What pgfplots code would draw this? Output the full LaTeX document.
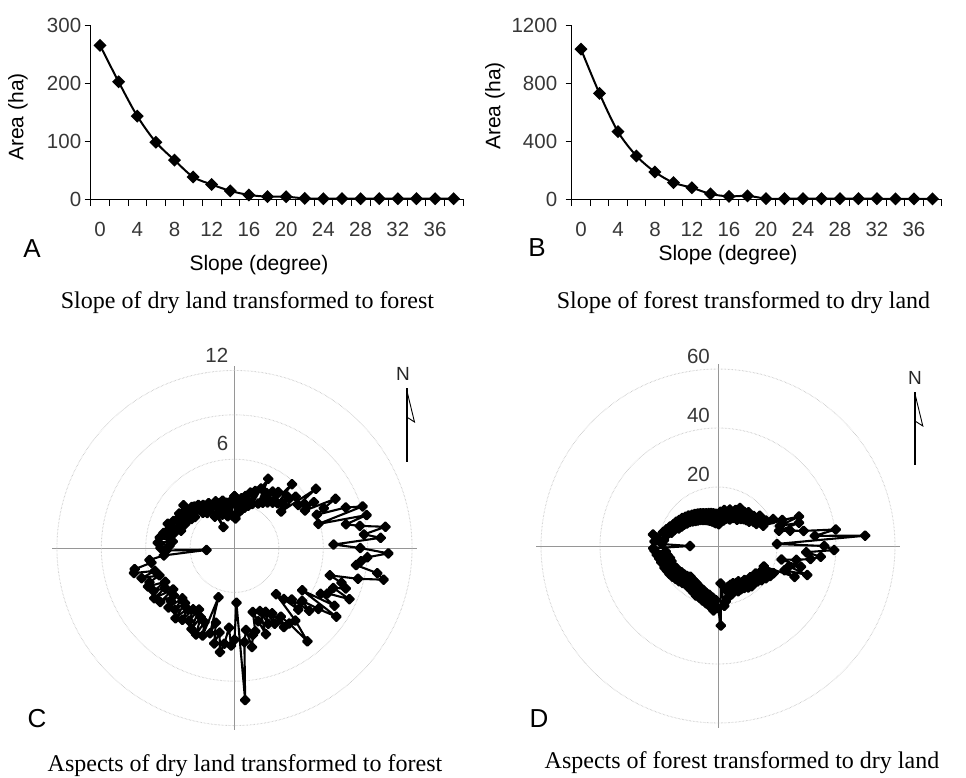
\documentclass[border=0pt]{standalone}
\usepackage{pgfplots}
\usepackage{pgfplotstable}
\pgfplotsset{compat=1.18}
\usepgfplotslibrary{polar}
\usepackage{fontspec}
\setmainfont{Liberation Sans}
\newfontfamily\capfont{Liberation Serif}
\newcommand\tickf{\fontsize{20.5}{24}\selectfont}
\newcommand\labf{\fontsize{21}{25}\selectfont}
\newcommand\capf{\capfont\fontsize{24}{28}\selectfont}
\newcommand\letf{\fontsize{26}{30}\selectfont}
\definecolor{tickc}{RGB}{55,55,55}
\definecolor{gridc}{RGB}{150,150,150}
\definecolor{circc}{RGB}{190,190,190}

\pgfplotstableread[row sep=\\]{
x y\\
0 265\\ 2 202\\ 4 143\\ 6 98\\ 8 67\\ 10 38\\ 12 25\\ 14 14\\ 16 7\\ 18 4\\
20 4\\ 22 1\\ 24 0.5\\ 26 0.5\\ 28 0.5\\ 30 0.5\\ 32 0.5\\ 34 0.5\\ 36 0.5\\ 38 0.5\\
}\dataA

\pgfplotstableread[row sep=\\]{
x y\\
0 1038\\ 2 731\\ 4 466\\ 6 298\\ 8 187\\ 10 113\\ 12 78\\ 14 35\\ 16 18\\ 18 22\\
20 3\\ 22 2\\ 24 2\\ 26 2\\ 28 2\\ 30 2\\ 32 2\\ 34 1\\ 36 1\\ 38 1\\
}\dataB

% aspect (degrees clockwise from north), area
\pgfplotstableread[row sep=\\]{
a r\\
0 3.5\\ 2 2.0\\ 4 3.2\\ 6 2.4\\ 8 3.4\\ 10 2.6\\ 12 3.6\\ 14 2.8\\ 16 3.9\\ 18 3.0\\
20 4.1\\ 22 3.2\\ 24 4.4\\ 26 5.2\\ 28 3.4\\ 30 4.3\\ 32 3.6\\ 34 4.6\\ 36 3.8\\ 38 4.8\\
40 4.0\\ 42 5.8\\ 44 4.2\\ 46 5.0\\ 48 4.4\\ 50 5.4\\ 52 4.0\\ 54 6.8\\ 56 5.2\\ 58 5.6\\
60 6.2\\ 62 5.4\\ 64 7.6\\ 66 6.6\\ 68 6.0\\ 70 8.0\\ 72 9.1\\ 74 5.9\\ 76 9.2\\ 78 7.7\\
80 8.6\\ 82 10.3\\ 84 8.8\\ 86 9.9\\ 88 6.7\\ 90 8.5\\ 92 10.4\\ 94 9.0\\ 96 8.6\\ 98 8.3\\
100 9.8\\ 102 10.3\\ 104 8.6\\ 106 6.7\\ 108 7.6\\ 110 8.0\\ 112 7.2\\ 114 8.5\\ 116 7.0\\ 118 6.6\\
120 7.8\\ 122 5.4\\ 124 8.3\\ 126 7.0\\ 128 5.8\\ 130 6.6\\ 132 5.2\\ 134 6.0\\ 136 4.8\\ 138 4.2\\
140 6.4\\ 142 8.0\\ 144 6.3\\ 146 5.6\\ 148 6.3\\ 150 5.1\\ 152 5.8\\ 154 4.8\\ 156 5.6\\ 158 4.6\\
160 6.2\\ 162 5.2\\ 164 4.5\\ 166 5.8\\ 168 6.0\\ 170 6.8\\ 172 5.6\\ 174 6.4\\ 176 10.3\\ 178 3.7\\
180 6.2\\ 182 6.6\\ 184 5.4\\ 186 6.5\\ 188 7.1\\ 190 5.8\\ 192 6.6\\ 194 5.2\\ 196 6.0\\ 198 3.5\\
200 6.3\\ 202 5.4\\ 204 6.4\\ 206 5.2\\ 208 6.2\\ 210 4.8\\ 212 5.8\\ 214 5.0\\ 216 6.0\\ 218 5.2\\
220 6.2\\ 222 5.0\\ 224 5.8\\ 226 4.9\\ 228 6.0\\ 230 5.6\\ 232 5.2\\ 234 6.2\\ 236 5.0\\ 238 6.4\\
240 5.4\\ 242 6.2\\ 244 5.2\\ 246 6.4\\ 248 6.2\\ 250 5.4\\ 252 6.6\\ 254 5.6\\ 256 7.0\\ 258 6.9\\
260 5.7\\ 262 5.8\\ 264 4.8\\ 266 1.9\\ 268 4.6\\ 270 5.0\\ 272 4.4\\ 274 5.2\\ 276 4.2\\ 278 5.1\\
280 4.5\\ 282 4.9\\ 284 4.2\\ 286 4.6\\ 288 3.8\\ 290 4.8\\ 292 3.9\\ 294 4.5\\ 296 3.7\\ 298 4.3\\
300 3.7\\ 302 4.4\\ 304 3.5\\ 306 4.2\\ 308 3.4\\ 310 4.5\\ 312 3.6\\ 314 4.0\\ 316 3.9\\ 318 3.2\\
320 3.8\\ 322 3.0\\ 324 3.6\\ 326 3.1\\ 328 2.5\\ 330 3.5\\ 332 1.6\\ 334 3.2\\ 336 2.6\\ 338 3.4\\
340 2.4\\ 342 3.2\\ 344 2.6\\ 346 3.3\\ 348 2.2\\ 350 3.1\\ 352 2.4\\ 354 3.0\\ 356 2.2\\ 358 3.3\\
360 3.5\\
}\dataC

\pgfplotstableread[row sep=\\]{
a r\\
0 10.5\\ 2 7.4\\ 4 11.6\\ 6 8.2\\ 8 10.8\\ 10 12.4\\ 12 8.8\\ 14 11.8\\ 16 9.6\\ 18 13.0\\
20 10.0\\ 22 12.2\\ 24 9.8\\ 26 13.6\\ 28 10.8\\ 30 14.9\\ 32 11.4\\ 34 13.2\\ 36 11.0\\ 38 14.6\\
40 12.0\\ 42 15.4\\ 44 12.6\\ 46 14.2\\ 48 13.0\\ 50 15.8\\ 52 13.4\\ 54 17.5\\ 56 14.6\\ 58 16.8\\
60 15.0\\ 62 18.4\\ 64 20.8\\ 66 16.8\\ 68 23.5\\ 70 29.2\\ 72 22.0\\ 74 28.6\\ 76 21.3\\ 78 25.0\\
80 29.5\\ 82 40.3\\ 84 33.0\\ 86 50.0\\ 88 20.0\\ 90 36.0\\ 92 39.4\\ 94 30.0\\ 96 35.0\\ 98 31.7\\
100 27.0\\ 102 22.0\\ 104 29.0\\ 106 25.0\\ 108 31.8\\ 110 24.0\\ 112 28.0\\ 114 17.0\\ 116 21.0\\ 118 18.2\\
120 20.4\\ 122 16.8\\ 124 19.6\\ 126 15.8\\ 128 18.8\\ 130 16.2\\ 132 18.0\\ 134 15.2\\ 136 17.6\\ 138 15.9\\
140 17.8\\ 142 14.6\\ 144 17.4\\ 146 14.8\\ 148 16.8\\ 150 13.8\\ 152 16.6\\ 154 14.0\\ 156 16.8\\ 158 13.6\\
160 16.2\\ 162 13.8\\ 164 17.0\\ 166 14.2\\ 168 17.6\\ 170 15.0\\ 172 19.0\\ 174 20.4\\ 176 12.7\\ 178 27.0\\
180 21.0\\ 182 18.4\\ 184 21.9\\ 186 17.6\\ 188 20.6\\ 190 16.8\\ 192 19.8\\ 194 16.4\\ 196 19.2\\ 198 15.8\\
200 18.6\\ 202 15.4\\ 204 18.4\\ 206 15.0\\ 208 17.8\\ 210 14.6\\ 212 17.4\\ 214 14.4\\ 216 17.2\\ 218 14.2\\
220 17.0\\ 222 14.0\\ 224 17.4\\ 226 14.6\\ 228 17.8\\ 230 15.0\\ 232 18.2\\ 234 15.2\\ 236 18.6\\ 238 15.8\\
240 19.0\\ 242 16.0\\ 244 19.2\\ 246 16.4\\ 248 19.6\\ 250 19.2\\ 252 16.6\\ 254 20.0\\ 256 16.8\\ 258 20.4\\
260 17.4\\ 262 21.0\\ 264 17.8\\ 266 21.6\\ 268 22.0\\ 270 9.5\\ 272 19.0\\ 274 21.6\\ 276 18.4\\ 278 21.0\\
280 22.4\\ 282 17.8\\ 284 19.2\\ 286 16.4\\ 288 18.4\\ 290 15.8\\ 292 17.6\\ 294 14.6\\ 296 16.8\\ 298 14.0\\
300 16.4\\ 302 13.6\\ 304 15.8\\ 306 13.0\\ 308 15.4\\ 310 12.6\\ 312 14.8\\ 314 12.0\\ 316 14.4\\ 318 11.4\\
320 13.8\\ 322 11.0\\ 324 13.4\\ 326 10.6\\ 328 13.0\\ 330 10.2\\ 332 12.6\\ 334 9.8\\ 336 12.2\\ 338 9.4\\
340 11.8\\ 342 9.0\\ 344 11.6\\ 346 8.6\\ 348 11.4\\ 350 8.2\\ 352 11.2\\ 354 7.8\\ 356 11.0\\ 358 8.0\\
360 10.5\\
}\dataD

\pgfplotsset{
  slopeaxis/.style={
    scale only axis, anchor=south west,
    xmin=-1, xmax=39, ymin=0,
    axis x line*=bottom, axis y line*=left,
    axis line style={black, line width=0.8pt},
    xtick={0,4,...,36}, minor xtick={-1,1,...,39},
    major x tick style={draw=none},
    tick align=outside, major tick length=6pt, minor tick length=7pt,
    tick style={black, line width=0.8pt},
    ticklabel style={font=\tickf, text=tickc},
    xticklabel style={yshift=-14pt},
    /pgf/number format/1000 sep={},
    /pgf/number format/assume math mode=true,
  },
  aspectaxis/.style={
    scale only axis, anchor=center, width=364pt, height=364pt,
    clip=false,
    ymin=0, xtick={0,90,180,270},
    xticklabels={}, yticklabels={},
    major tick length=0pt,
    axis line style={draw=none},
    xmajorgrids, ymajorgrids,
    x grid style={gridc, line width=0.9pt},
    y grid style={circc, densely dotted, line width=0.9pt},
  },
  slopeplot/.style={black, line width=2pt, smooth, mark=square*, mark size=3.6pt, mark options={rotate=45, solid}},
  aspplot/.style={black, line width=2.1pt, line join=round, mark=square*, mark size=3.1pt, mark options={rotate=45, solid}},
}

\begin{document}
\begin{tikzpicture}
\useasboundingbox (0pt,0pt) rectangle (966pt,-778pt);

% ---------- A ----------
\begin{axis}[slopeaxis, at={(90.7pt,-199pt)}, width=372.3pt, height=174pt,
  ymax=300, ytick={0,100,200,300}]
\addplot[slopeplot] table[x=x, y=y] {\dataA};
\end{axis}
\node[font=\labf, rotate=90] at (18pt,-117pt) {Area (ha)};
\node[font=\labf] at (259pt,-265pt) {Slope (degree)};
\node[font=\letf] at (32pt,-249pt) {A};
\node[font=\capf] at (247.5pt,-303pt) {Slope of dry land transformed to forest};

% ---------- B ----------
\begin{axis}[slopeaxis, at={(571.7pt,-199pt)}, width=370pt, height=173.3pt,
  ymax=1200, ytick={0,400,800,1200}, yticklabel style={xshift=-5pt}]
\addplot[slopeplot] table[x=x, y=y] {\dataB};
\end{axis}
\node[font=\labf, rotate=90] at (495pt,-106pt) {Area (ha)};
\node[font=\labf] at (728pt,-255pt) {Slope (degree)};
\node[font=\letf] at (537pt,-248pt) {B};
\node[font=\capf] at (743.5pt,-303pt) {Slope of forest transformed to dry land};

% ---------- C ----------
\begin{polaraxis}[aspectaxis, at={(234.5pt,-548pt)}, ymax=12.3, ytick={3,6,9,12}]
\addplot[aspplot] table[x expr={90-\thisrowno{0}}, y index=1] {\dataC};
\node[font=\tickf, text=tickc, anchor=south east, inner sep=0pt] at (axis cs:90,12) [xshift=-6pt, yshift=8pt] {12};
\node[font=\tickf, text=tickc, anchor=south east, inner sep=0pt] at (axis cs:90,6) [xshift=-6pt, yshift=8pt] {6};
\end{polaraxis}
\node[font=\fontsize{19}{22}\selectfont, text=black!85] at (403pt,-374pt) {N};
\draw[black, line width=2.4pt] (406.7pt,-388pt) -- (406.7pt,-462pt);
\draw[black, line width=0.9pt, line join=miter] (406.7pt,-390pt) -- (414.5pt,-422pt) -- (406.7pt,-417pt);
\node[font=\letf] at (37pt,-719pt) {C};
\node[font=\capf] at (245pt,-766pt) {Aspects of dry land transformed to forest};

% ---------- D ----------
\begin{polaraxis}[aspectaxis, at={(718pt,-546pt)}, ymax=61.7, ytick={20,40,60}]
\addplot[aspplot] table[x expr={90-\thisrowno{0}}, y index=1] {\dataD};
\node[font=\tickf, text=tickc, anchor=south east, inner sep=0pt] at (axis cs:90,60) [xshift=-8pt, yshift=5pt] {60};
\node[font=\tickf, text=tickc, anchor=south east, inner sep=0pt] at (axis cs:90,40) [xshift=-8pt, yshift=5pt] {40};
\node[font=\tickf, text=tickc, anchor=south east, inner sep=0pt] at (axis cs:90,20) [xshift=-8pt, yshift=5pt] {20};
\end{polaraxis}
\node[font=\fontsize{19}{22}\selectfont, text=black!85] at (915pt,-378pt) {N};
\draw[black, line width=2.4pt] (915pt,-392pt) -- (915pt,-465pt);
\draw[black, line width=0.9pt, line join=miter] (915pt,-394pt) -- (922.8pt,-426pt) -- (915pt,-421pt);
\node[font=\letf] at (539pt,-719pt) {D};
\node[font=\capf] at (742pt,-763pt) {Aspects of forest transformed to dry land};
\end{tikzpicture}
\end{document}
